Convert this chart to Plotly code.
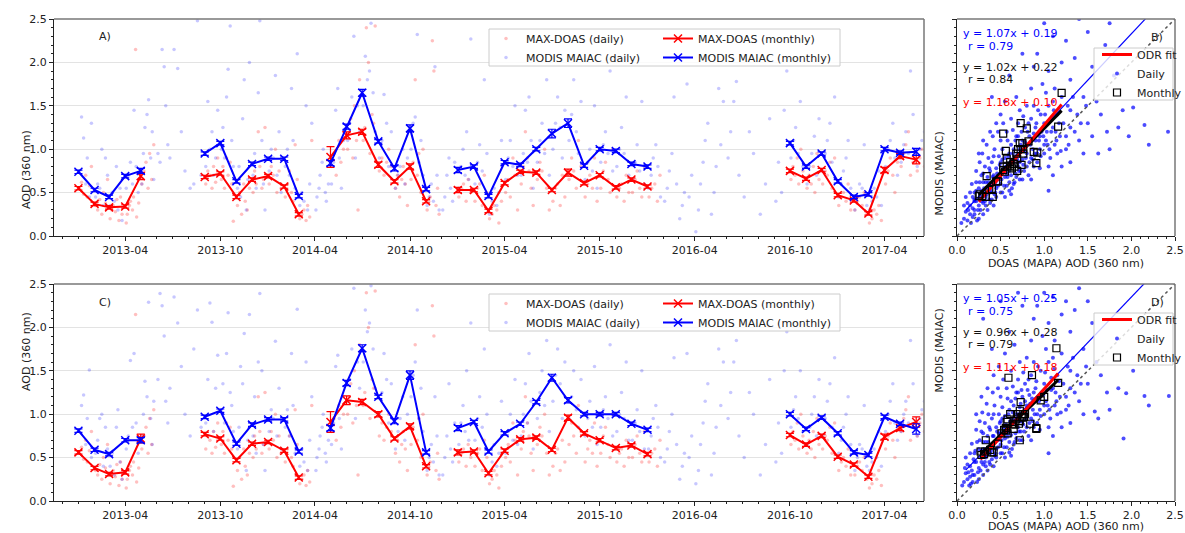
import plotly.graph_objects as go

W, H = 1185, 533

# ---------------- monthly data (time series) ----------------
months = ["2013-01", "2013-02", "2013-03", "2013-04", "2013-05",
          "2013-09", "2013-10", "2013-11", "2013-12", "2014-01", "2014-02", "2014-03",
          "2014-05", "2014-06", "2014-07", "2014-08", "2014-09", "2014-10", "2014-11",
          "2015-01", "2015-02", "2015-03", "2015-04", "2015-05", "2015-06", "2015-07",
          "2015-08", "2015-09", "2015-10", "2015-11", "2015-12", "2016-01",
          "2016-10", "2016-11", "2016-12", "2017-01", "2017-02", "2017-03", "2017-04",
          "2017-05", "2017-06"]

doas_monthly_A = [0.55, 0.37, 0.33, 0.34, 0.69,
                  0.68, 0.72, 0.45, 0.65, 0.69, 0.57, 0.25,
                  0.91, 1.16, 1.20, 0.82, 0.63, 0.80, 0.40,
                  0.53, 0.53, 0.29, 0.61, 0.74, 0.73, 0.53, 0.73, 0.61, 0.70, 0.56, 0.65, 0.57,
                  0.75, 0.66, 0.76, 0.47, 0.41, 0.26, 0.76, 0.92, 0.88]
doas_err_A = [0.02, 0.02, 0.02, 0.02, 0.04,
              0.02, 0.02, 0.02, 0.02, 0.02, 0.02, 0.02,
              0.12, 0.04, 0.03, 0.03, 0.02, 0.03, 0.02,
              0.03, 0.02, 0.02, 0.02, 0.02, 0.02, 0.02, 0.04, 0.02, 0.02, 0.02, 0.02, 0.02,
              0.02, 0.02, 0.02, 0.02, 0.02, 0.02, 0.03, 0.03, 0.05]
maiac_monthly_A = [0.74, 0.53, 0.45, 0.69, 0.75,
                   0.95, 1.07, 0.63, 0.83, 0.89, 0.89, 0.46,
                   0.84, 1.26, 1.65, 1.09, 0.78, 1.24, 0.54,
                   0.76, 0.80, 0.46, 0.85, 0.82, 1.00, 1.18, 1.30, 0.81, 1.00, 0.98, 0.83, 0.80,
                   1.07, 0.80, 0.95, 0.63, 0.45, 0.48, 1.00, 0.96, 0.97]
maiac_err_A = [0.02, 0.02, 0.02, 0.02, 0.03,
               0.02, 0.02, 0.02, 0.02, 0.02, 0.02, 0.02,
               0.03, 0.03, 0.04, 0.02, 0.03, 0.04, 0.02,
               0.03, 0.02, 0.02, 0.02, 0.02, 0.02, 0.05, 0.05, 0.02, 0.02, 0.02, 0.02, 0.02,
               0.02, 0.02, 0.02, 0.02, 0.02, 0.02, 0.02, 0.02, 0.04]

doas_monthly_C = [0.56, 0.38, 0.31, 0.33, 0.72,
                  0.77, 0.72, 0.47, 0.66, 0.68, 0.58, 0.27,
                  0.91, 1.16, 1.14, 1.00, 0.72, 0.86, 0.40,
                  0.56, 0.57, 0.32, 0.58, 0.71, 0.73, 0.59, 0.96, 0.78, 0.70, 0.61, 0.64, 0.54,
                  0.76, 0.65, 0.75, 0.51, 0.42, 0.28, 0.74, 0.84, 0.91]
doas_err_C = [0.02, 0.02, 0.02, 0.02, 0.05,
              0.02, 0.02, 0.02, 0.02, 0.02, 0.02, 0.02,
              0.12, 0.05, 0.03, 0.03, 0.02, 0.03, 0.02,
              0.03, 0.02, 0.02, 0.02, 0.02, 0.02, 0.02, 0.03, 0.02, 0.02, 0.02, 0.02, 0.02,
              0.02, 0.02, 0.02, 0.02, 0.02, 0.02, 0.03, 0.03, 0.06]
maiac_monthly_C = [0.81, 0.59, 0.54, 0.70, 0.70,
                   0.97, 1.04, 0.66, 0.88, 0.94, 0.94, 0.57,
                   0.84, 1.36, 1.76, 1.20, 0.92, 1.45, 0.56,
                   0.84, 0.91, 0.57, 0.78, 0.89, 1.14, 1.42, 1.16, 1.00, 1.00, 1.00, 0.89, 0.82,
                   1.00, 0.83, 0.96, 0.78, 0.56, 0.53, 0.97, 0.89, 0.83]
maiac_err_C = [0.02, 0.02, 0.02, 0.02, 0.03,
               0.02, 0.02, 0.02, 0.02, 0.02, 0.02, 0.02,
               0.03, 0.03, 0.04, 0.02, 0.03, 0.05, 0.02,
               0.03, 0.02, 0.02, 0.02, 0.02, 0.02, 0.04, 0.03, 0.02, 0.02, 0.02, 0.02, 0.02,
               0.02, 0.02, 0.02, 0.02, 0.02, 0.02, 0.02, 0.02, 0.06]

# ---------------- daily data (time series), values per month ----------------
doas_daily = {
    "2013-01": "0.55 0.62 0.48 0.70 0.45 0.58 0.80",
    "2013-02": "0.35 0.30 0.42 0.25 0.50 0.38 0.65",
    "2013-03": "0.20 0.30 0.35 0.28 0.42 0.18 0.45 0.25",
    "2013-04": "0.15 0.25 0.35 0.40 0.30 0.45 2.15 0.22 0.38",
    "2013-05": "0.60 0.75 0.85 0.55 0.95 0.65 1.05",
    "2013-09": "0.60 0.75 0.70 0.55 0.80 0.62 0.90",
    "2013-10": "0.65 0.80 0.55 0.90 0.70 0.85 0.60 0.17",
    "2013-11": "0.35 0.50 0.25 0.60 0.40 0.30 0.55",
    "2013-12": "0.50 0.75 0.60 1.20 0.80 0.55 0.65 1.25",
    "2014-01": "0.60 0.80 0.70 1.00 0.50 0.75 0.55",
    "2014-02": "0.45 0.60 0.75 0.50 0.40 1.05 0.65",
    "2014-03": "0.20 0.25 0.30 0.18 0.35 0.22 1.10",
    "2014-05": "0.80 0.95 0.70 1.10 0.85 1.00",
    "2014-06": "1.00 1.20 1.35 0.90 1.50 1.10 0.30 1.80",
    "2014-07": "1.10 1.25 2.40 2.00 0.95 1.40 1.30 2.42",
    "2014-08": "0.75 0.90 0.70 0.85 1.00 0.80",
    "2014-09": "0.55 0.70 0.45 0.65 0.80 0.60 0.35",
    "2014-10": "0.65 0.85 1.80 0.70 0.95 0.50 1.00",
    "2014-11": "0.30 0.40 0.45 2.25 1.90 0.35 0.55 0.25",
    "2015-01": "0.45 0.55 0.60 0.40 0.65 0.50",
    "2015-02": "0.40 0.55 0.60 0.35 0.70 0.50",
    "2015-03": "0.20 0.25 0.35 0.30 0.15 0.40",
    "2015-04": "0.50 0.65 0.45 0.90 0.70 0.30",
    "2015-05": "0.60 0.80 1.20 0.90 0.75 0.55 0.35",
    "2015-06": "0.65 0.85 0.75 1.00 0.55 0.30",
    "2015-07": "0.40 0.55 0.60 0.35 0.70 0.45",
    "2015-08": "0.65 0.90 0.75 0.55 1.10 0.80",
    "2015-09": "0.45 0.60 0.70 0.55 0.90 0.40",
    "2015-10": "0.55 0.75 0.85 0.65 0.50 1.00",
    "2015-11": "0.45 0.55 0.60 0.40 0.70 0.50",
    "2015-12": "0.50 0.65 0.75 0.55 0.45 0.80",
    "2016-01": "0.45 0.55 0.60 0.40 0.70",
    "2016-10": "0.65 0.80 0.70 0.90 0.60 1.00 0.75",
    "2016-11": "0.55 0.70 0.60 0.80 0.50 0.95 0.65",
    "2016-12": "0.60 0.75 0.70 0.85 0.55 0.90",
    "2017-01": "0.35 0.45 0.50 0.40 0.60 0.30",
    "2017-02": "0.30 0.40 0.45 0.35 0.50 0.25",
    "2017-03": "0.15 0.20 0.30 0.25 0.35 0.18",
    "2017-04": "0.60 0.75 0.90 0.70 0.50 0.85",
    "2017-05": "0.80 0.95 1.05 1.20 0.70 0.85",
    "2017-06": "0.75 0.90 1.00 0.80 2.20 0.65",
}

maiac_daily_A = {
    "2013-01": "0.75 1.37 1.13 0.60 0.90 0.45 1.30",
    "2013-02": "0.45 0.60 0.55 1.00 0.35 0.90 0.70",
    "2013-03": "0.35 0.50 0.40 0.80 0.30 0.55 0.18",
    "2013-04": "0.55 0.70 0.85 0.60 1.45 0.80 0.50",
    "2013-05": "0.60 0.95 1.25 1.40 1.57 0.90 1.20 0.65",
    "2013-06": "0.95 0.85 2.15 1.95 1.50 1.05 0.90",
    "2013-07": "2.15 1.93 1.20 0.75",
    "2013-08": "0.55 0.60 2.48 0.70",
    "2013-09": "0.80 1.55 1.00 1.20 0.70 0.90 1.45",
    "2013-10": "1.00 1.25 0.90 1.60 1.92 2.42 1.10 0.80",
    "2013-11": "0.55 0.80 0.45 1.35 1.80 0.30 0.65 2.00",
    "2013-12": "0.70 0.95 0.55 1.65 2.48 1.10 0.60 0.30",
    "2014-01": "0.75 1.00 0.90 1.85 0.70 1.20 0.50",
    "2014-02": "0.80 1.00 0.70 1.70 1.10 0.55 2.10",
    "2014-03": "0.35 0.50 0.40 1.50 0.30 0.60 1.30",
    "2014-04": "0.30 0.45 0.55 0.70 0.85 1.00 0.50 0.40 0.60",
    "2014-05": "0.60 0.85 1.45 1.70 0.90 0.55 1.10",
    "2014-06": "1.10 1.30 1.60 2.30 0.90 1.50 1.20",
    "2014-07": "1.50 2.07 1.80 1.90 2.45 1.65 1.20",
    "2014-08": "0.90 1.10 1.63 1.30 0.80 1.20",
    "2014-09": "0.55 0.70 0.80 1.00 0.60 0.90",
    "2014-10": "1.00 1.30 1.37 2.32 0.85 1.10 0.70",
    "2014-11": "0.35 0.45 0.60 0.40 1.95 0.70 0.30",
    "2014-12": "0.30 0.45 0.70 0.90 0.55 0.40 0.85",
    "2015-01": "0.55 0.80 1.00 0.70 1.20 0.65 2.27",
    "2015-02": "0.60 0.85 1.05 0.75 1.80 0.95",
    "2015-03": "0.25 0.40 0.55 0.35 0.50 1.10",
    "2015-04": "0.65 0.90 1.10 0.80 1.50 0.70",
    "2015-05": "0.70 0.95 1.45 0.85 1.60 1.10 0.55",
    "2015-06": "0.85 1.10 1.30 0.95 1.80 0.70",
    "2015-07": "1.00 1.30 1.60 1.25 0.90 1.45",
    "2015-08": "1.10 1.40 1.80 1.20 0.95 1.55",
    "2015-09": "0.65 0.85 1.00 0.75 1.50 0.55",
    "2015-10": "0.85 1.05 1.20 0.95 1.90 0.75",
    "2015-11": "0.80 1.00 1.25 0.95 1.60 0.70",
    "2015-12": "0.65 0.85 1.05 0.75 1.55 0.60",
    "2016-01": "0.55 0.70 0.90 1.05 0.80 0.45",
    "2016-02": "0.40 0.55 0.75 0.95 1.60 0.60",
    "2016-03": "0.20 0.35 0.50 1.75 0.45 0.70",
    "2016-04": "0.05 0.30 0.60 0.85 1.10 1.30",
    "2016-05": "0.25 0.50 0.80 1.70 1.05 1.55",
    "2016-06": "0.90 1.20 1.55 1.78 0.70",
    "2016-07": "0.45 1.20 0.95",
    "2016-08": "0.25 0.60 1.35",
    "2016-09": "0.40 0.85 0.50 1.45 1.90",
    "2016-10": "0.90 1.10 1.25 0.95 1.55 0.80",
    "2016-11": "0.60 0.80 0.95 1.15 0.70 1.35",
    "2016-12": "0.75 0.95 1.10 1.30 0.85 1.60",
    "2017-01": "0.45 0.60 0.75 0.90 1.10 0.55",
    "2017-02": "0.30 0.45 0.60 0.55 1.05 0.35",
    "2017-03": "0.30 0.40 0.55 0.45 0.75 0.35",
    "2017-04": "0.80 1.00 1.10 1.30 0.90 0.70",
    "2017-05": "0.85 1.05 1.20 0.95 1.90 1.40",
    "2017-06": "0.80 1.00 1.10 1.20 1.40 0.60",
}

maiac_daily_C = {
    "2013-01": "0.80 1.10 1.22 0.65 0.95 1.51 0.50",
    "2013-02": "0.55 0.70 0.95 1.00 0.40 0.85 0.60",
    "2013-03": "0.40 0.55 0.30 0.85 1.05 0.45 0.25",
    "2013-04": "0.60 0.75 1.62 0.85 1.70 0.90 0.55",
    "2013-05": "0.75 1.00 1.38 1.20 2.29 0.95 0.65 1.15",
    "2013-06": "1.40 2.39 2.25 1.90 1.15 0.90 1.30",
    "2013-07": "2.35 2.05 1.55 1.00",
    "2013-08": "0.75 1.75 2.20 0.85",
    "2013-09": "0.90 1.40 2.28 2.06 0.80 1.30 1.68",
    "2013-10": "1.05 1.35 0.90 1.70 2.17 1.25 1.10 0.80",
    "2013-11": "0.60 0.85 1.55 1.35 1.93 0.35 0.70 2.15",
    "2013-12": "0.75 1.20 0.55 1.60 2.39 1.50 0.65 0.35",
    "2014-01": "0.80 1.05 0.95 1.84 0.75 1.30 0.60",
    "2014-02": "0.85 1.05 0.75 1.70 1.10 0.55 2.21",
    "2014-03": "0.40 0.60 0.45 1.60 0.35 0.70 1.20",
    "2014-04": "0.35 0.50 0.60 0.75 0.85 1.00 0.55 0.45 0.70",
    "2014-05": "0.65 0.90 1.55 1.68 0.95 0.60 1.20",
    "2014-06": "1.15 1.40 1.75 2.45 0.95 1.60 1.30",
    "2014-07": "1.60 2.20 1.95 2.05 2.48 1.75 1.30",
    "2014-08": "1.00 1.25 1.70 1.40 0.90 1.35",
    "2014-09": "0.60 0.80 0.95 1.20 0.70 1.00",
    "2014-10": "1.20 1.45 1.60 2.20 0.95 1.30 0.80",
    "2014-11": "0.35 0.50 0.65 0.45 1.20 0.75 0.30",
    "2014-12": "0.30 0.50 0.75 1.35 0.60 0.45 0.90",
    "2015-01": "0.65 0.90 1.10 0.80 1.50 0.70 2.05",
    "2015-02": "0.70 0.95 1.20 0.85 1.75 1.00",
    "2015-03": "0.30 0.45 0.65 0.40 0.55 1.15",
    "2015-04": "0.55 0.80 1.00 0.70 1.40 0.65",
    "2015-05": "0.75 1.00 1.35 0.90 1.70 1.15 0.60",
    "2015-06": "0.95 1.25 1.50 1.10 1.85 0.80",
    "2015-07": "1.15 1.45 1.75 1.35 0.95 1.60",
    "2015-08": "0.95 1.20 1.50 1.05 0.85 1.40",
    "2015-09": "0.75 0.95 1.15 0.85 1.55 0.65",
    "2015-10": "0.85 1.05 1.20 0.95 1.80 0.75",
    "2015-11": "0.80 1.00 1.25 0.95 1.60 0.70",
    "2015-12": "0.70 0.90 1.05 0.80 1.50 0.60",
    "2016-01": "0.60 0.75 0.95 1.10 0.85 0.50",
    "2016-02": "0.45 0.60 0.80 1.00 1.65 0.65",
    "2016-03": "0.25 0.40 0.55 1.70 0.50 0.75",
    "2016-04": "0.20 0.35 0.65 0.90 1.15 1.35",
    "2016-05": "0.30 0.55 0.85 1.75 1.10 1.60",
    "2016-06": "0.95 1.25 1.60 1.85 0.75",
    "2016-07": "0.50 1.25 1.00",
    "2016-08": "0.30 0.65 1.40",
    "2016-09": "0.45 0.90 0.55 1.50 1.95",
    "2016-10": "0.85 1.05 1.20 0.95 1.50 0.80",
    "2016-11": "0.65 0.85 1.00 1.20 0.75 1.40",
    "2016-12": "0.75 0.95 1.15 1.35 0.85 1.65",
    "2017-01": "0.55 0.70 0.85 1.00 1.20 0.65",
    "2017-02": "0.35 0.50 0.65 0.60 1.10 0.40",
    "2017-03": "0.35 0.45 0.60 0.50 0.80 0.40",
    "2017-04": "0.80 1.00 1.15 1.35 0.90 0.70",
    "2017-05": "0.80 1.00 1.15 0.90 1.85 1.35",
    "2017-06": "0.75 0.95 1.05 1.15 1.35 0.55",
}

# ---------------- scatter panels (daily pairs DOAS, MAIAC) ----------------
scatter_B = [
    (0.15, 0.35), (0.18, 0.45), (0.20, 0.30), (0.20, 0.50), (0.22, 0.40), (0.22, 0.62), (0.25, 0.35),
    (0.25, 0.55), (0.27, 0.45), (0.28, 0.70), (0.30, 0.38), (0.30, 0.50), (0.30, 0.62), (0.32, 0.80),
    (0.33, 0.45), (0.35, 0.55), (0.35, 0.68), (0.36, 0.90), (0.38, 0.50), (0.38, 0.75), (0.40, 0.60),
    (0.40, 0.42), (0.40, 0.85), (0.42, 0.70), (0.43, 1.00), (0.45, 0.55), (0.45, 0.78), (0.47, 0.65),
    (0.48, 0.92), (0.50, 0.60), (0.50, 0.72), (0.50, 0.85), (0.50, 1.10), (0.52, 0.50), (0.53, 0.78),
    (0.55, 0.68), (0.55, 0.90), (0.57, 1.20), (0.58, 0.80), (0.60, 0.62), (0.60, 0.75), (0.60, 0.95),
    (0.62, 1.05), (0.63, 0.55), (0.65, 0.85), (0.65, 1.00), (0.67, 0.72), (0.68, 1.15), (0.70, 0.80),
    (0.70, 0.95), (0.70, 1.30), (0.72, 0.65), (0.73, 1.05), (0.75, 0.88), (0.75, 1.10), (0.77, 0.75),
    (0.78, 1.25), (0.80, 0.95), (0.80, 1.05), (0.82, 0.70), (0.83, 1.15), (0.85, 0.90), (0.85, 1.35),
    (0.87, 1.00), (0.88, 0.80), (0.90, 1.10), (0.90, 1.25), (0.92, 0.85), (0.93, 1.45), (0.95, 1.00),
    (0.97, 1.20), (1.00, 0.95), (1.00, 1.30), (1.02, 1.10), (1.05, 1.50), (1.07, 0.90), (1.10, 1.25),
    (1.12, 1.05), (1.15, 1.40), (1.18, 1.15), (1.20, 1.60), (1.22, 1.30), (1.25, 1.00), (1.30, 1.45),
    (1.35, 1.20), (0.08, 0.20), (0.10, 0.28), (0.12, 0.38), (0.12, 0.18), (0.15, 0.25), (0.18, 0.22),
    (0.10, 0.45), (0.25, 0.20), (0.30, 0.25), (0.35, 0.30), (0.42, 0.35), (0.45, 0.45), (0.55, 0.45),
    (0.65, 0.60), (0.62, 0.48), (0.75, 0.65), (0.85, 0.65), (0.95, 0.78), (1.05, 0.80), (1.15, 0.95),
    (1.10, 0.70), (1.28, 1.05), (0.25, 0.95), (0.30, 1.10), (0.38, 1.20), (0.45, 1.30), (0.50, 1.40),
    (0.55, 1.55), (0.62, 1.35), (0.68, 1.60), (0.72, 1.45), (0.80, 1.50), (0.85, 1.70), (0.88, 1.95),
    (0.92, 2.10), (0.98, 1.75), (1.00, 2.45), (1.05, 1.90), (1.10, 2.30), (1.12, 1.70), (1.20, 2.00),
    (1.25, 2.25), (1.30, 1.80), (1.35, 2.05), (1.40, 2.50), (1.45, 1.60), (1.50, 2.35), (1.55, 1.95),
    (1.60, 1.55), (1.70, 2.20), (1.80, 1.85), (1.75, 2.45), (0.75, 2.10), (0.60, 1.85), (0.40, 1.60),
    (1.40, 1.10), (1.45, 0.95), (1.50, 1.30), (1.55, 1.15), (1.62, 0.95), (1.65, 1.40), (1.72, 1.20),
    (1.75, 1.00), (1.85, 1.25), (1.90, 1.45), (1.97, 1.15), (2.02, 1.48), (2.15, 1.28), (2.20, 1.05),
    (2.42, 1.20), (1.05, 0.52), (1.30, 0.85), (1.20, 0.80), (0.20, 0.40), (0.28, 0.52), (0.33, 0.62),
    (0.37, 0.42), (0.44, 0.62), (0.48, 0.70), (0.52, 0.88), (0.57, 0.72), (0.63, 0.88), (0.68, 0.92),
    (0.72, 0.85), (0.78, 0.98), (0.84, 1.05), (0.88, 1.18), (0.95, 1.15), (1.03, 1.20), (1.08, 1.35),
    (0.18, 0.32), (0.20, 0.42), (0.22, 0.52), (0.24, 0.30), (0.26, 0.62), (0.28, 0.40), (0.30, 0.72),
    (0.31, 0.55), (0.33, 0.35), (0.34, 0.48), (0.36, 0.62), (0.37, 0.78), (0.39, 0.52), (0.41, 0.68),
    (0.42, 0.92), (0.44, 0.50), (0.46, 0.72), (0.47, 0.58), (0.49, 0.82), (0.51, 0.65), (0.52, 1.00),
    (0.54, 0.58), (0.56, 0.80), (0.58, 0.68), (0.59, 0.92), (0.61, 0.85), (0.62, 0.70), (0.64, 0.95),
    (0.66, 0.62), (0.67, 1.10), (0.69, 0.88), (0.71, 0.75), (0.72, 1.00), (0.74, 1.20), (0.76, 0.82),
    (0.78, 1.08), (0.79, 0.90), (0.81, 1.20), (0.83, 0.85), (0.86, 1.10), (0.89, 0.95), (0.91, 1.30),
    (0.94, 1.10), (0.96, 0.92), (0.99, 1.15), (1.01, 1.40), (1.04, 1.05), (1.08, 1.20), (1.11, 1.45),
    (1.14, 1.10), (1.17, 1.30), (1.19, 0.98), (0.15, 0.50), (0.17, 0.60), (0.22, 0.75), (0.26, 0.85),
    (0.29, 0.95), (0.34, 1.05), (0.41, 1.15), (0.47, 1.20), (0.53, 1.30), (0.58, 1.10), (0.64, 1.22),
    (0.70, 1.15), (0.76, 1.38), (0.82, 1.30), (0.88, 1.50), (0.96, 1.40), (1.02, 1.65), (1.10, 1.55),
    (0.05, 0.15), (0.08, 0.35), (0.13, 0.30), (0.16, 0.15), (0.20, 0.25), (0.23, 0.18), (0.27, 0.30),
    (0.32, 0.40), (0.38, 0.38), (0.43, 0.48), (0.50, 0.50), (0.57, 0.58), (0.60, 0.52), (0.68, 0.68),
    (0.73, 0.75), (0.80, 0.80), (0.87, 0.88), (0.92, 0.95), (1.00, 1.05), (1.06, 1.00), (1.13, 1.20),
    (1.25, 1.15), (1.30, 1.25), (1.38, 1.40), (1.42, 1.30), (1.48, 1.50), (1.33, 1.60), (1.27, 1.50),
]

scatter_D = [
    (0.12, 0.25), (0.15, 0.40), (0.18, 0.30), (0.20, 0.55), (0.22, 0.45), (0.23, 0.68), (0.25, 0.38),
    (0.25, 0.60), (0.27, 0.50), (0.28, 0.80), (0.30, 0.42), (0.30, 0.55), (0.30, 0.68), (0.32, 0.90),
    (0.33, 0.50), (0.35, 0.60), (0.35, 0.75), (0.36, 1.00), (0.38, 0.55), (0.38, 0.82), (0.40, 0.65),
    (0.40, 0.48), (0.40, 0.95), (0.42, 0.75), (0.43, 1.10), (0.45, 0.60), (0.45, 0.85), (0.47, 0.70),
    (0.48, 1.00), (0.50, 0.65), (0.50, 0.78), (0.50, 0.92), (0.50, 1.20), (0.52, 0.55), (0.53, 0.85),
    (0.55, 0.72), (0.55, 0.98), (0.57, 1.30), (0.58, 0.85), (0.60, 0.68), (0.60, 0.80), (0.60, 1.05),
    (0.62, 1.15), (0.63, 0.60), (0.65, 0.90), (0.65, 1.10), (0.67, 0.78), (0.68, 1.25), (0.70, 0.85),
    (0.70, 1.00), (0.70, 1.40), (0.72, 0.70), (0.73, 1.12), (0.75, 0.92), (0.75, 1.20), (0.77, 0.80),
    (0.78, 1.35), (0.80, 1.00), (0.80, 1.10), (0.82, 0.75), (0.83, 1.22), (0.85, 0.95), (0.85, 1.45),
    (0.87, 1.05), (0.88, 0.85), (0.90, 1.15), (0.90, 1.30), (0.92, 0.90), (0.93, 1.55), (0.95, 1.05),
    (0.97, 1.25), (1.00, 1.00), (1.00, 1.35), (1.02, 1.15), (1.05, 1.60), (1.07, 0.95), (1.10, 1.30),
    (1.12, 1.10), (1.15, 1.45), (1.18, 1.20), (1.20, 1.70), (1.22, 1.35), (1.25, 1.05), (1.30, 1.50),
    (1.35, 1.25), (0.08, 0.22), (0.10, 0.32), (0.12, 0.42), (0.14, 0.18), (0.15, 0.28), (0.18, 0.22),
    (0.10, 0.50), (0.25, 0.25), (0.30, 0.30), (0.35, 0.35), (0.42, 0.40), (0.45, 0.50), (0.55, 0.50),
    (0.65, 0.65), (0.62, 0.52), (0.75, 0.70), (0.85, 0.70), (0.95, 0.82), (1.05, 0.85), (1.15, 1.00),
    (1.10, 0.75), (1.28, 1.10), (0.22, 1.00), (0.28, 1.20), (0.35, 1.30), (0.42, 1.45), (0.48, 1.55),
    (0.55, 1.70), (0.62, 1.50), (0.66, 1.80), (0.72, 1.60), (0.80, 1.65), (0.85, 1.85), (0.88, 2.10),
    (0.92, 2.25), (0.98, 1.90), (1.00, 2.40), (1.05, 2.05), (1.10, 2.35), (1.12, 1.85), (1.20, 2.15),
    (1.25, 2.30), (1.30, 1.95), (1.35, 2.20), (1.40, 2.45), (1.45, 1.75), (1.50, 2.30), (1.55, 2.05),
    (1.60, 1.60), (0.30, 2.10), (0.50, 2.30), (0.75, 2.25), (0.60, 1.95), (0.40, 1.75), (0.70, 2.40),
    (1.40, 1.15), (1.45, 1.00), (1.50, 1.35), (1.58, 1.03), (1.62, 0.95), (1.65, 1.45), (1.72, 1.25),
    (1.75, 1.05), (1.85, 1.30), (1.91, 0.72), (1.94, 1.24), (2.02, 1.50), (2.15, 1.21), (2.20, 1.10),
    (2.43, 1.21), (1.05, 0.55), (1.30, 0.90), (1.20, 0.85), (0.20, 0.45), (0.28, 0.58), (0.33, 0.68),
    (0.37, 0.45), (0.44, 0.68), (0.48, 0.78), (0.52, 0.95), (0.57, 0.78), (0.63, 0.95), (0.68, 1.00),
    (0.72, 0.92), (0.78, 1.05), (0.84, 1.12), (0.88, 1.25), (0.95, 1.20), (1.03, 1.28), (1.08, 1.42),
    (0.17, 0.35), (0.19, 0.48), (0.21, 0.58), (0.24, 0.33), (0.26, 0.70), (0.28, 0.45), (0.30, 0.78),
    (0.31, 0.60), (0.33, 0.40), (0.34, 0.52), (0.36, 0.68), (0.37, 0.85), (0.39, 0.58), (0.41, 0.75),
    (0.42, 1.00), (0.44, 0.55), (0.46, 0.80), (0.47, 0.62), (0.49, 0.90), (0.51, 0.70), (0.52, 1.08),
    (0.54, 0.62), (0.56, 0.88), (0.58, 0.74), (0.59, 1.00), (0.61, 0.92), (0.62, 0.76), (0.64, 1.02),
    (0.66, 0.68), (0.67, 1.18), (0.69, 0.95), (0.71, 0.80), (0.72, 1.08), (0.74, 1.28), (0.76, 0.88),
    (0.78, 1.15), (0.79, 0.95), (0.81, 1.28), (0.83, 0.90), (0.86, 1.18), (0.89, 1.00), (0.91, 1.38),
    (0.94, 1.15), (0.96, 0.98), (0.99, 1.22), (1.01, 1.48), (1.04, 1.10), (1.08, 1.28), (1.11, 1.52),
    (1.14, 1.15), (1.17, 1.38), (1.19, 1.02), (0.15, 0.55), (0.17, 0.66), (0.22, 0.82), (0.26, 0.92),
    (0.29, 1.02), (0.34, 1.12), (0.41, 1.25), (0.47, 1.30), (0.53, 1.40), (0.58, 1.18), (0.64, 1.32),
    (0.70, 1.25), (0.76, 1.48), (0.82, 1.40), (0.88, 1.60), (0.96, 1.50), (1.02, 1.75), (1.10, 1.65),
    (0.06, 0.18), (0.09, 0.38), (0.13, 0.33), (0.16, 0.20), (0.20, 0.30), (0.23, 0.22), (0.27, 0.35),
    (0.32, 0.45), (0.38, 0.42), (0.43, 0.52), (0.50, 0.55), (0.57, 0.62), (0.60, 0.56), (0.68, 0.72),
    (0.73, 0.80), (0.80, 0.85), (0.87, 0.92), (0.92, 1.00), (1.00, 1.10), (1.06, 1.05), (1.13, 1.25),
    (1.25, 1.20), (1.30, 1.30), (1.38, 1.45), (1.42, 1.35), (1.48, 1.55), (1.33, 1.65), (1.27, 1.55),
]

# fit coefficients (slope, intercept), correlations and fit-line x extents
fit_daily_B, fit_month_B, fit_odr_B = (1.07, 0.19), (1.02, 0.22), (1.18, 0.10)
fit_daily_D, fit_month_D, fit_odr_D = (1.05, 0.25), (0.96, 0.28), (1.11, 0.18)
r_daily_B, r_month_B = 0.79, 0.84
r_daily_D, r_month_D = 0.75, 0.79
daily_line_x = [0.10, 2.50]
fit_x_B = [0.25, 1.20]
fit_x_D = [0.27, 1.16]

# ---------------- helpers ----------------
def month_index(m):
    y, mo = m.split("-")
    return int(y) * 12 + int(mo)


def with_gaps(mlist, vals, errs):
    xs, ys, es = [], [], []
    prev = None
    for m, v, e in zip(mlist, vals, errs):
        if prev is not None and month_index(m) - prev > 1:
            xs.append(None); ys.append(None); es.append(0)
        xs.append(m + "-01"); ys.append(v); es.append(e)
        prev = month_index(m)
    return xs, ys, es


def daily_xy(d):
    xs, ys = [], []
    for m, s in d.items():
        vals = [float(t) for t in s.split()]
        n = len(vals)
        for i, v in enumerate(vals):
            day = 1 + int(round((i + 0.5) * 27 / n))
            xs.append(f"{m}-{day:02d}")
            ys.append(v)
    return xs, ys


def py(ypx):
    return 1 - ypx / H


def px(xpx):
    return xpx / W


RED, BLUE = "#ff0000", "#0000ff"
FONT = "DejaVu Sans"

fig = go.Figure()

# ---------------- time-series panels ----------------
panels = [
    ("x", "y", maiac_daily_A, doas_monthly_A, doas_err_A, maiac_monthly_A, maiac_err_A, "legend", "legend2"),
    ("x3", "y3", maiac_daily_C, doas_monthly_C, doas_err_C, maiac_monthly_C, maiac_err_C, "legend3", "legend4"),
]
for xa, ya, mdaily, dm, de, mm, me, lg1, lg2 in panels:
    dx, dy = daily_xy(doas_daily)
    fig.add_trace(go.Scatter(x=dx, y=dy, mode="markers", xaxis=xa, yaxis=ya,
                             marker=dict(color=RED, size=3.5, opacity=0.25),
                             name="MAX-DOAS (daily)", legend=lg1))
    mx, my = daily_xy(mdaily)
    fig.add_trace(go.Scatter(x=mx, y=my, mode="markers", xaxis=xa, yaxis=ya,
                             marker=dict(color=BLUE, size=3.5, opacity=0.22),
                             name="MODIS MAIAC (daily)", legend=lg1))
    for vals, errs, col, nm in [(dm, de, RED, "MAX-DOAS (monthly)"), (mm, me, BLUE, "MODIS MAIAC (monthly)")]:
        xs, ys, es = with_gaps(months, vals, errs)
        fig.add_trace(go.Scatter(
            x=xs, y=ys, mode="lines+markers", xaxis=xa, yaxis=ya, connectgaps=False,
            line=dict(color=col, width=2),
            marker=dict(symbol="x-thin", size=8, color=col, line=dict(color=col, width=1.5)),
            error_y=dict(type="data", array=es, visible=True, color=col, thickness=1.2, width=4),
            name=nm, legend=lg2))

# ---------------- scatter panels ----------------
spanels = [
    ("x2", "y2", scatter_B, doas_monthly_A, maiac_monthly_A, fit_daily_B, fit_month_B, fit_odr_B, fit_x_B, "legend5"),
    ("x4", "y4", scatter_D, doas_monthly_C, maiac_monthly_C, fit_daily_D, fit_month_D, fit_odr_D, fit_x_D, "legend6"),
]
for xa, ya, pts, dm, mm, fd, fm, fo, fx, lg in spanels:
    fig.add_trace(go.Scatter(x=[p[0] for p in pts], y=[p[1] for p in pts], mode="markers",
                             xaxis=xa, yaxis=ya, marker=dict(color=BLUE, size=4, opacity=0.7),
                             name="Daily", legend=lg, legendrank=2))
    fig.add_trace(go.Scatter(x=[0, 2.5], y=[0, 2.5], mode="lines", xaxis=xa, yaxis=ya,
                             line=dict(color="#555555", width=1.5, dash="dot"), showlegend=False))
    fig.add_trace(go.Scatter(x=daily_line_x, y=[fd[0] * v + fd[1] for v in daily_line_x], mode="lines",
                             xaxis=xa, yaxis=ya, line=dict(color=BLUE, width=1.2), showlegend=False))
    fig.add_trace(go.Scatter(x=fx, y=[fm[0] * v + fm[1] for v in fx], mode="lines",
                             xaxis=xa, yaxis=ya, line=dict(color="black", width=3), showlegend=False))
    fig.add_trace(go.Scatter(x=fx, y=[fo[0] * v + fo[1] for v in fx], mode="lines",
                             xaxis=xa, yaxis=ya, line=dict(color=RED, width=3),
                             name="ODR fit", legend=lg, legendrank=1))
    fig.add_trace(go.Scatter(x=dm, y=mm, mode="markers", xaxis=xa, yaxis=ya,
                             marker=dict(symbol="square-open", size=7, color="black", line=dict(width=1.2)),
                             name="Monthly", legend=lg, legendrank=3))

# ---------------- axes ----------------
tickfont = dict(family=FONT, size=11, color="#222222")
time_x = dict(type="date", range=["2012-11-15", "2017-06-16"], tick0="2013-04-01", dtick="M6",
              tickformat="%Y-%m", ticks="outside", ticklen=4, tickcolor="#222", showline=True,
              linecolor="#222", linewidth=1, showgrid=False, zeroline=False, tickfont=tickfont,
              automargin=False,
              minor=dict(dtick="M1", tick0="2013-01-01", ticks="outside", ticklen=2, tickcolor="#222", showgrid=False))
time_y = dict(range=[0, 2.5], tick0=0, dtick=0.5, tickformat=".1f", ticks="outside", ticklen=4,
              tickcolor="#222", showline=True, linecolor="#222", linewidth=1, showgrid=True,
              gridcolor="#e3e3e3", gridwidth=1, zeroline=False, tickfont=tickfont, automargin=False,
              minor=dict(dtick=0.1, ticks="outside", ticklen=2, tickcolor="#222", showgrid=False))
sc_x = dict(range=[0, 2.5], tick0=0, dtick=0.5, tickformat=".1f", ticks="outside", ticklen=4,
            tickcolor="#222", showline=True, linecolor="#222", showgrid=False, zeroline=False,
            tickfont=tickfont, automargin=False,
            title=dict(text="DOAS (MAPA) AOD (360 nm)", standoff=3, font=dict(family=FONT, size=11, color="#222")),
            minor=dict(dtick=0.1, ticks="outside", ticklen=2, tickcolor="#222"))
sc_y = dict(range=[0, 2.5], tick0=0, dtick=0.5, ticks="outside", ticklen=4, showticklabels=False,
            tickcolor="#222", showline=True, linecolor="#222", showgrid=False, zeroline=False,
            automargin=False, minor=dict(dtick=0.1, ticks="outside", ticklen=2, tickcolor="#222"))

xA = [px(54), px(924)]
xB = [px(957), px(1175)]
yTop = [py(236), py(19)]
yBot = [py(501), py(284)]

fig.update_layout(
    xaxis=dict(time_x, domain=xA, anchor="y"), yaxis=dict(time_y, domain=yTop, anchor="x"),
    xaxis2=dict(sc_x, domain=xB, anchor="y2"), yaxis2=dict(sc_y, domain=yTop, anchor="x2"),
    xaxis3=dict(time_x, domain=xA, anchor="y3"), yaxis3=dict(time_y, domain=yBot, anchor="x3"),
    xaxis4=dict(sc_x, domain=xB, anchor="y4"), yaxis4=dict(sc_y, domain=yBot, anchor="x4"),
)

# ---------------- legends ----------------
lfont = dict(family=FONT, size=11, color="#222222")
def leg(xp, yp):
    return dict(x=px(xp), y=py(yp), xanchor="left", yanchor="top", bgcolor="rgba(0,0,0,0)",
                font=lfont, orientation="v", tracegroupgap=0, itemwidth=30, traceorder="normal")

fig.update_layout(
    legend=leg(486, 24), legend2=leg(658, 24),
    legend3=leg(486, 289), legend4=leg(658, 289),
    legend5=leg(1097, 40), legend6=leg(1097, 305),
)

shapes = []
# legend boxes
for (x0, y0, x1, y1) in [(489, 29, 840, 66), (489, 294, 840, 331), (1094, 48, 1173, 100), (1094, 313, 1173, 365)]:
    shapes.append(dict(type="rect", xref="paper", yref="paper", x0=px(x0), x1=px(x1), y0=py(y1), y1=py(y0),
                       line=dict(color="#cccccc", width=1), fillcolor="rgba(255,255,255,0.8)", layer="above"))
# top / right spines in grey
for xa, ya in [("x", "y"), ("x2", "y2"), ("x3", "y3"), ("x4", "y4")]:
    shapes.append(dict(type="line", xref=f"{xa} domain", yref=f"{ya} domain", x0=0, x1=1, y0=1, y1=1,
                       line=dict(color="#777777", width=1.5), layer="above"))
    shapes.append(dict(type="line", xref=f"{xa} domain", yref=f"{ya} domain", x0=1, x1=1, y0=0, y1=1,
                       line=dict(color="#777777", width=1.5), layer="above"))

# ---------------- annotations ----------------
afont = dict(family=FONT, size=11, color="#222222")
ann = []
for off, lab in [(0, "A)"), (265, "C)")]:
    ann.append(dict(text=lab, xref="paper", yref="paper", x=px(97), y=py(37 + off), xanchor="left",
                    yanchor="middle", showarrow=False, font=afont))
    ann.append(dict(text="AOD (360 nm)", xref="paper", yref="paper", x=px(18), y=py(128 + off),
                    textangle=-90, showarrow=False, font=afont))
    ann.append(dict(text="MODIS (MAIAC)", xref="paper", yref="paper", x=px(947), y=py(130 + off),
                    textangle=-90, showarrow=False, font=afont))

for xa, ya, fd, rd, fm, rm, fo, lab in [("x2", "y2", fit_daily_B, r_daily_B, fit_month_B, r_month_B, fit_odr_B, "B)"),
                                        ("x4", "y4", fit_daily_D, r_daily_D, fit_month_D, r_month_D, fit_odr_D, "D)")]:
    items = [(f"y = {fd[0]:.2f}x + {fd[1]:.2f}", 0.05, 2.33, BLUE),
             (f"r = {rd:.2f}", 0.10, 2.18, BLUE),
             (f"y = {fm[0]:.2f}x + {fm[1]:.2f}", 0.05, 1.94, "#111111"),
             (f"r = {rm:.2f}", 0.10, 1.80, "#111111"),
             (f"y = {fo[0]:.2f}x + {fo[1]:.2f}", 0.05, 1.54, RED),
             (lab, 2.20, 2.29, "#222222")]
    for t, xv, yv, c in items:
        ann.append(dict(text=t, xref=xa, yref=ya, x=xv, y=yv, xanchor="left", yanchor="middle",
                        showarrow=False, font=dict(family=FONT, size=11, color=c)))

fig.update_layout(
    width=W, height=H, margin=dict(l=0, r=0, t=0, b=0, autoexpand=False),
    paper_bgcolor="white", plot_bgcolor="white",
    font=dict(family=FONT, size=11, color="#222222"),
    shapes=shapes, annotations=ann,
)

fig.write_html("out.html")
